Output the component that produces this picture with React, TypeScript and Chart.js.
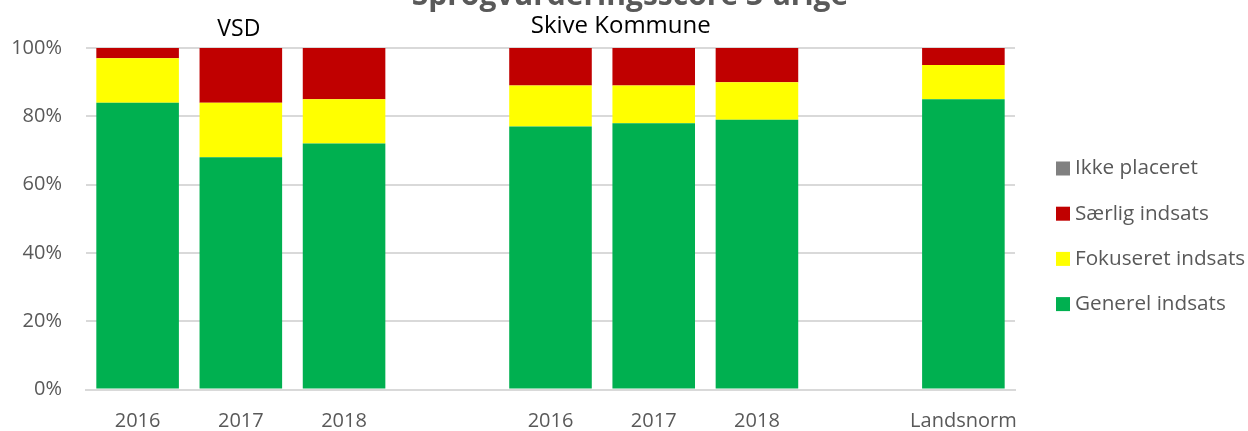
import React, { useEffect, useRef } from "react";
import { Chart, registerables } from "chart.js";

Chart.register(...registerables);

const chartTitle = "Sprogvurderingsscore 3-årige";
const categories = ["2016", "2017", "2018", "", "2016", "2017", "2018", "", "Landsnorm"];
const generelIndsats = [84, 68, 72, null, 77, 78, 79, null, 85];
const fokuseretIndsats = [13, 16, 13, null, 12, 11, 11, null, 10];
const saerligIndsats = [3, 16, 15, null, 11, 11, 10, null, 5];
const ikkePlaceret = [0, 0, 0, null, 0, 0, 0, null, 0];
const groupLabels = ["VSD", "Skive Kommune"];
const groupLabelIndex = [1, 5];

const FONT = "'Open Sans', sans-serif";
const TEXT = "#595959";

const overlayPlugin = {
  id: "overlay",
  afterDraw(chart: any) {
    const { ctx, scales } = chart;
    ctx.save();
    // title (clipped at top like reference)
    ctx.font = `bold 30px ${FONT}`;
    ctx.fillStyle = TEXT;
    ctx.textAlign = "center";
    ctx.textBaseline = "alphabetic";
    ctx.fillText(chartTitle, 630, 5);

    // group labels
    ctx.fillStyle = "#000000";
    const sizes = [23, 24];
    const offsets = [-2, -33];
    const baselines = [36, 33];
    groupLabels.forEach((t, i) => {
      ctx.font = `${sizes[i]}px ${FONT}`;
      const x = scales.x.getPixelForValue(groupLabelIndex[i]) + offsets[i];
      ctx.fillText(t, x, baselines[i]);
    });

    // legend (reverse order)
    const ds = chart.data.datasets.slice().reverse();
    ctx.font = `20.7px ${FONT}`;
    ctx.textAlign = "left";
    ctx.textBaseline = "middle";
    const startY = 168.5;
    const step = 45.2;
    ds.forEach((d: any, i: number) => {
      const cy = startY + i * step;
      ctx.fillStyle = d.backgroundColor;
      ctx.fillRect(1056, cy - 7, 14, 14);
      ctx.fillStyle = TEXT;
      ctx.fillText(d.label, 1075, cy);
    });
    ctx.restore();
  },
};

export default function App() {
  const ref = useRef<HTMLCanvasElement>(null);
  useEffect(() => {
    const chart = new Chart(ref.current!, {
      type: "bar",
      data: {
        labels: categories,
        datasets: [
          { label: "Generel indsats", data: generelIndsats, backgroundColor: "#00B050" },
          { label: "Fokuseret indsats", data: fokuseretIndsats, backgroundColor: "#FFFF00" },
          { label: "Særlig indsats", data: saerligIndsats, backgroundColor: "#C00000" },
          { label: "Ikke placeret", data: ikkePlaceret, backgroundColor: "#808080" },
        ],
      },
      options: {
        animation: false,
        responsive: false,
        maintainAspectRatio: false,
        layout: { padding: { left: 0, right: 233, top: 48, bottom: 0 } },
        datasets: { bar: { categoryPercentage: 0.8, barPercentage: 1, borderWidth: 0 } },
        plugins: {
          legend: { display: false },
          title: { display: false },
          tooltip: { enabled: false },
        },
        scales: {
          x: {
            stacked: true,
            grid: { display: false, drawTicks: false },
            border: { display: true, color: "#d9d9d9", width: 2 },
            ticks: { color: TEXT, font: { family: FONT, size: 20 }, padding: 20, maxRotation: 0, autoSkip: false },
            afterFit: (s: any) => { s.height = 431 - 389.5; },
          },
          y: {
            stacked: true,
            min: 0,
            max: 100,
            grid: { color: "#d9d9d9", lineWidth: 2, drawTicks: false },
            border: { display: false },
            ticks: {
              stepSize: 20,
              color: TEXT,
              font: { family: FONT, size: 20 },
              padding: 24,
              callback: (v: any) => v + "%",
            },
            afterFit: (s: any) => { s.width = 86; },
          },
        },
      },
      plugins: [overlayPlugin],
    });
    return () => chart.destroy();
  }, []);
  return (
    <div style={{ position: "fixed", left: 0, top: 0, width: 1248, height: 431, background: "#fff" }}>
      <canvas ref={ref} width={1248} height={431} style={{ width: 1248, height: 431 }} />
    </div>
  );
}
